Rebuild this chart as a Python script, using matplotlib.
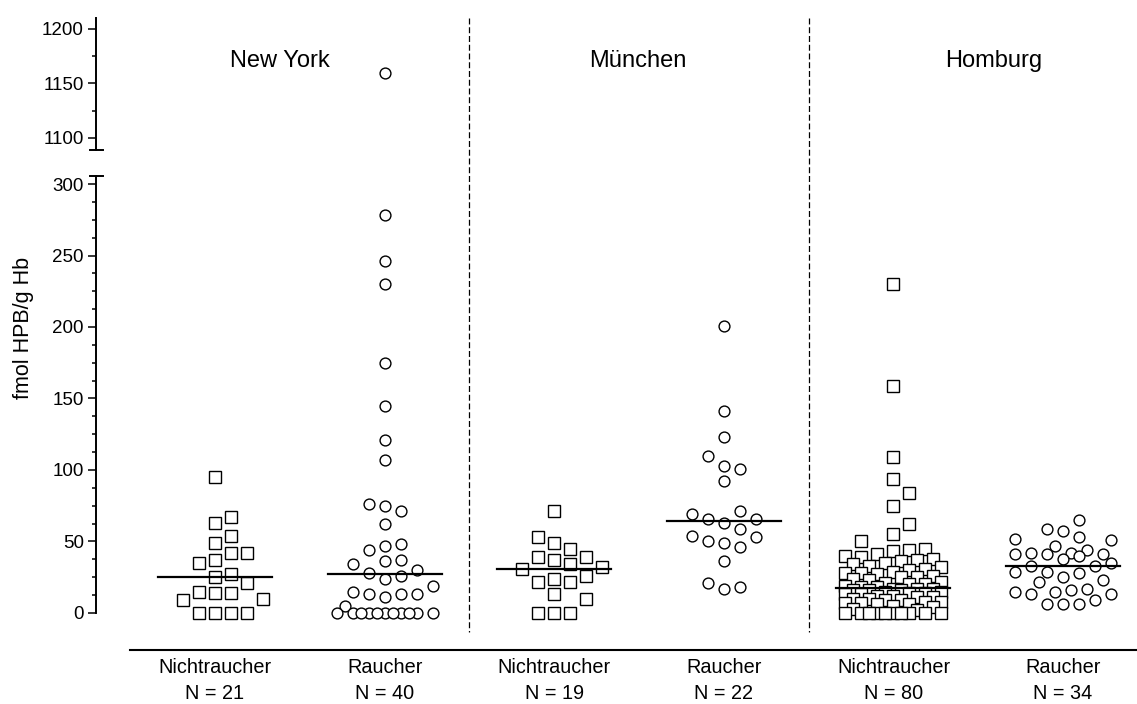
import numpy as np
import matplotlib
matplotlib.use("Agg")
import matplotlib.pyplot as plt
from matplotlib.lines import Line2D
from matplotlib import transforms

plt.rcParams['font.family'] = ['Liberation Sans', 'DejaVu Sans']
plt.rcParams['lines.scale_dashes'] = False

# ---- data: fmol HPB / g Hb per person ----
cities = ['New York', 'München', 'Homburg']
groups = ['Nichtraucher', 'Raucher']

ny_non = [95, 67, 63, 54, 49, 42, 42, 37, 35, 27, 25, 21, 15, 14, 14, 10, 9,
          0, 0, 0, 0]
ny_smk = [1160, 278, 246, 230, 175, 145, 121, 107, 76, 75, 71, 62, 48, 47, 44,
          37, 36, 34, 30, 28, 26, 24, 19, 15, 13, 13, 13, 11, 5,
          0, 0, 0, 0, 0, 0, 0, 0, 0, 0, 0]
mu_non = [71, 53, 49, 45, 39, 39, 37, 34, 32, 31, 26, 24, 22, 22, 13, 10,
          0, 0, 0]
mu_smk = [201, 141, 123, 110, 103, 101, 92, 71, 69, 66, 66, 63, 59, 54, 53,
          50, 49, 46, 36, 21, 18, 17]
hb_non = [230, 159, 109, 94, 84, 75, 62, 55, 50, 45, 44, 43, 41, 40,
          39, 38, 37, 36, 35, 34, 33, 32, 31, 30, 29, 28, 28, 27, 26, 25, 25,
          24, 23, 22, 21, 20, 20, 19, 18, 18,
          17, 17, 17, 16, 16, 16, 15, 15, 14, 14, 13, 13, 12, 12, 11, 11,
          10, 10, 9, 9, 8, 8, 7, 7, 6, 6, 5, 4, 3, 2,
          0, 0, 0, 0, 0, 0, 0, 0, 0, 0]
hb_smk = [65, 59, 57, 53, 52, 51, 47, 44, 42, 42, 41, 41, 41, 40, 38, 35, 33,
          33, 29, 29, 28, 25, 23, 22, 17, 16, 15, 15, 13, 13, 9, 6, 6, 6]

series = [ny_non, ny_smk, mu_non, mu_smk, hb_non, hb_smk]
n_labels = ['N = %d' % len(s) for s in series]

BREAK = 1000          # values above this go to the upper panel
SLOT = 0.0943         # horizontal step between neighbouring points
HALF_W = 0.336        # half width of the median bar

fig = plt.figure(figsize=(11.37, 7.04), dpi=100)
W, H = 1137.0, 704.0
ax_lo = fig.add_axes([96 / W, 54 / H, 1 - 96 / W, 474 / H])
ax_hi = fig.add_axes([96 / W, 554 / H, 1 - 96 / W, 132 / H])

xlim = (-0.7017, 5.436)
for ax in (ax_lo, ax_hi):
    ax.set_xlim(*xlim)
    ax.set_xticks([])
    ax.spines['top'].set_visible(False)
    ax.spines['right'].set_visible(False)
    ax.spines['left'].set_linewidth(1.4)
    ax.tick_params(axis='y', which='major', length=5.8, width=1.1, labelsize=13.5, pad=3)
    ax.tick_params(axis='y', which='minor', length=3.0, width=1.1)
    ax.patch.set_visible(False)

ax_lo.set_ylim(-25.9, 305.6)
ax_lo.set_yticks(np.arange(0, 301, 50))
ax_lo.set_yticks(np.arange(0, 301, 12.5), minor=True)
ax_lo.spines['left'].set_bounds(0, 305.6)
ax_lo.spines['bottom'].set_bounds(-0.501, xlim[1])
ax_lo.spines['bottom'].set_linewidth(1.5)

ax_hi.set_ylim(1089, 1210)
ax_hi.set_yticks([1100, 1150, 1200])
ax_hi.set_yticks([1125, 1175], minor=True)
ax_hi.spines['bottom'].set_visible(False)

# caps marking the axis break
ax_hi.plot([-0.737, -0.662], [1089, 1089], color='k', lw=1.4, clip_on=False)
ax_lo.plot([-0.737, -0.662], [305.6, 305.6], color='k', lw=1.4, clip_on=False)


def swarm(vals, ax, xc, max_slot=3, gap_px=15.0):
    """Spread points sideways so that they do not sit on top of each other."""
    vals = np.asarray(vals, dtype=float)
    xs = np.full(len(vals), float(xc))
    if len(vals) == 0:
        return xs
    x0 = ax.transData.transform((xc, 0))[0]
    slot_px = ax.transData.transform((xc + SLOT, 0))[0] - x0
    ypx = ax.transData.transform(np.column_stack([xs, vals]))[:, 1]
    full = [0] + [s for k in range(1, max_slot + 1) for s in (k, -k)]
    half = sorted(np.arange(-max_slot, max_slot + 0.5, 0.5), key=abs)
    placed = []
    for i in np.argsort(vals, kind='stable'):
        def clearance(s):
            if not placed:
                return np.inf
            p = np.array(placed)
            return np.min(np.hypot(p[:, 0] - s * slot_px, p[:, 1] - ypx[i]))
        pick = next((s for s in full if clearance(s) >= gap_px), None)
        if pick is None:
            pick = max(half, key=clearance)
        placed.append((pick * slot_px, ypx[i]))
        xs[i] = xc + pick * SLOT
    return xs


for k, vals in enumerate(series):
    vals = np.asarray(vals, dtype=float)
    marker = 's' if k % 2 == 0 else 'o'
    msize = 8.0 if marker == 's' else 7.8
    for ax, sel in ((ax_lo, vals < BREAK), (ax_hi, vals >= BREAK)):
        v = vals[sel]
        if len(v) == 0:
            continue
        xs = swarm(v, ax, k)
        ax.plot(xs, v, ls='none', marker=marker, ms=msize, mfc='white',
                mec='black', mew=1.0, clip_on=False, zorder=3)
    med = np.median(vals)
    ax_lo.plot([k - HALF_W, k + HALF_W], [med, med], color='black', lw=1.6, zorder=4)

# dashed separators between the cities
blend = transforms.blended_transform_factory(ax_lo.transData, fig.transFigure)
for xd in (1.5, 3.5):
    fig.add_artist(Line2D([xd, xd], [1 - 18 / H, 1 - 632 / H], transform=blend,
                          color='black', lw=0.9, dashes=(4.3, 2.0)))

# city titles
for xd, name in zip((0.383, 2.494, 4.593), cities):
    fig.text(xd, 1 - 67 / H, name, transform=blend, ha='center', va='baseline',
             fontsize=17)

# group labels under the axis
for k in range(len(series)):
    fig.text(k, 1 - 673 / H, groups[k % 2], transform=blend, ha='center',
             va='baseline', fontsize=14.3)
    fig.text(k, 1 - 699 / H, n_labels[k], transform=blend, ha='center',
             va='baseline', fontsize=14.3)

fig.text(24 / W, 1 - 328 / H, 'fmol HPB/g Hb', rotation=90, ha='center',
         va='center', fontsize=15.5)

fig.savefig('out.png', dpi=100, facecolor='white')
